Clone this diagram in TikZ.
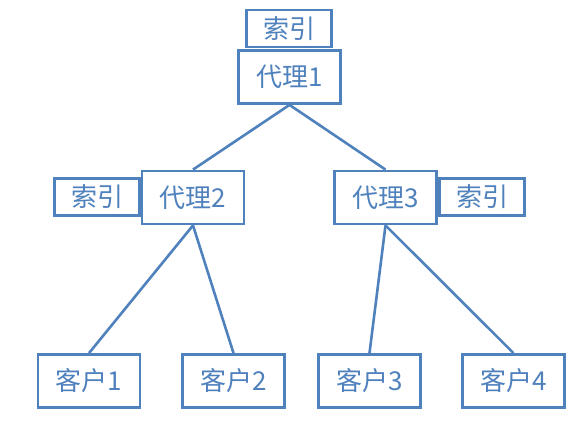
\documentclass[tikz,border=0pt]{standalone}
\usepackage{fontspec}
\newfontfamily\cjk{Noto Sans CJK SC}
\usetikzlibrary{calc}
\definecolor{boxblue}{HTML}{4F81BD}
\tikzset{
  agentbox/.style = {draw=boxblue, line width=2.8pt, fill=white, text=boxblue,
    minimum width=102pt, minimum height=53pt, inner sep=0pt, font=\cjk\fontsize{26}{26}\selectfont},
  indexbox/.style = {agentbox, minimum width=85pt, minimum height=37pt},
  link/.style = {draw=boxblue, line width=2.6pt}
}
\begin{document}
\begin{tikzpicture}[x=1pt,y=-1pt]
\useasboundingbox (0,0) rectangle (583,437);
\node[indexbox] (idx1) at (289,28.5) {索引};
\node[indexbox] (idx2) at (97,197) {索引};
\node[indexbox] (idx3) at (482,197) {索引};
\node[agentbox] (ag1) at (289.5,77) {代理1};
\node[agentbox] (ag2) at (193,197.5) {代理2};
\node[agentbox] (ag3) at (385.5,197.5) {代理3};
\node[agentbox] (cl1) at (89,381) {客户1};
\node[agentbox] (cl2) at (233.5,381) {客户2};
\node[agentbox] (cl3) at (369.5,381) {客户3};
\node[agentbox] (cl4) at (513.5,381) {客户4};
\draw[link] (ag1.south) -- (ag2.north);
\draw[link] (ag1.south) -- (ag3.north);
\draw[link] (ag2.south) -- (cl1.north);
\draw[link] (ag2.south) -- (cl2.north);
\draw[link] (ag3.south) -- (cl3.north);
\draw[link] (ag3.south) -- (cl4.north);
\end{tikzpicture}
\end{document}
